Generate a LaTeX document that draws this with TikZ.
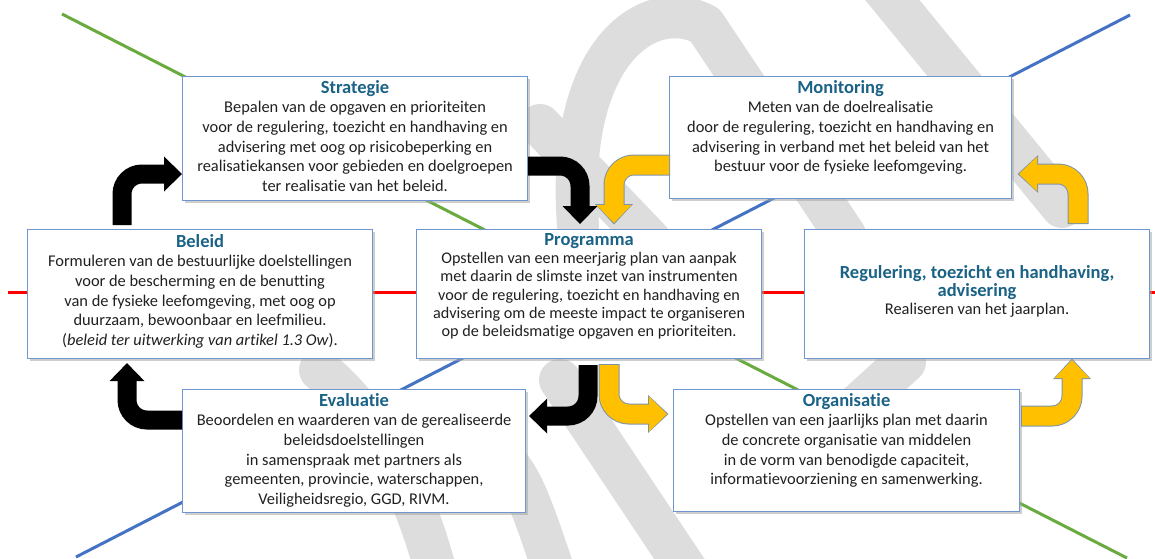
\documentclass[tikz,border=0pt]{standalone}
\usepackage{fontspec}
\setmainfont[Ligatures=NoCommon]{Carlito}
\usetikzlibrary{arrows.meta,shadows,calc}
\definecolor{boxline}{HTML}{7096D0}
\definecolor{titleblue}{HTML}{1A6286}
\definecolor{bodytext}{HTML}{202020}
\definecolor{arryellow}{HTML}{FFC000}
\definecolor{arrline}{HTML}{7F93A8}
\definecolor{wmgrey}{HTML}{DDDDDD}
\definecolor{lgreen}{HTML}{6AAB3F}
\definecolor{lblue}{HTML}{4472C4}
\definecolor{lred}{HTML}{FF0000}
\newcommand\boxttl[1]{{\fontsize{18.5}{19.7}\selectfont\bfseries\color{titleblue}#1}}
\newcommand\yarrow[5]{%
  \draw[yout, shorten <={#4pt-1pt}, shorten >={#5pt-1.5pt}] #1 #2 #3;
  \draw[yin, shorten <={#4pt}, shorten >={#5pt}] #1 #2 #3;}
\begin{document}
\begin{tikzpicture}[x=1pt,y=-1pt,
  box/.style={draw=boxline, line width=1.1pt, fill=white, rectangle, inner sep=0pt, anchor=north west,
    drop shadow={shadow xshift=2.5pt, shadow yshift=-2.5pt, fill=black!35, opacity=0.55}},
  txt/.style={anchor=north, align=center, inner sep=0pt, text=bodytext, font=\fontsize{16.4}{19.7}\selectfont},
  wm/.style={draw=wmgrey, line width=42pt, line cap=round, line join=round},
  bline/.style={line width=3pt},
  blackarrow/.style={draw=black, line width=19pt, rounded corners=20pt, -{Triangle[length=18pt, width=35pt, line width=0pt]}},
  yout/.style={draw=arrline, line width=21pt, rounded corners=20pt, -{Triangle[length=20.5pt, width=38pt, line width=0pt]}},
  yin/.style={draw=arryellow, line width=19pt, rounded corners=20pt, -{Triangle[length=18pt, width=35pt, line width=0pt]}}
]
\useasboundingbox (0,0) rectangle (1155,558);
\fill[white] (0,0) rectangle (1155,558);

% watermark
\draw[wm] (578,225) .. controls (565,50) and (650,-5) .. (705,25) -- (845,235);
\draw[wm] (880,-15) -- (1062,207);
\draw[wm] (540,125) -- (650,240);
\draw[wm] (320,370) .. controls (380,420) and (420,500) .. (440,590);
\draw[wm] (470,430) .. controls (520,470) .. (560,590);
\draw[wm] (560,380) -- (700,590);
\draw[wm] (905,362) -- (830,430);

% background lines
\draw[bline, lred] (8,292) -- (1155,292);
\draw[bline, lgreen] (62,14) -- (1127,558);
\draw[bline, lblue] (1130,15) -- (76,557);

% boxes
\node[box, minimum width=345pt, minimum height=124pt] (strategie) at (182,76) {};
\node[box, minimum width=342pt, minimum height=122pt] (monitoring) at (669,76) {};
\node[box, minimum width=345pt, minimum height=129pt] (beleid) at (27,229) {};
\node[box, minimum width=345pt, minimum height=129pt] (programma) at (416,229) {};
\node[box, minimum width=345pt, minimum height=129pt] (regulering) at (804,229) {};
\node[box, minimum width=343pt, minimum height=123pt] (evaluatie) at (182,389) {};
\node[box, minimum width=346pt, minimum height=122pt] (organisatie) at (673,389) {};

% texts
\node[txt] (strategieT) at ($(strategie.north)+(0,4)$) {\boxttl{Strategie}\\
Bepalen van de opgaven en prioriteiten\\
voor de regulering, toezicht en handhaving en\\
advisering met oog op risicobeperking en\\
realisatiekansen voor gebieden en doelgroepen\\
ter realisatie van het beleid.};
\node[txt] (monitoringT) at ($(monitoring.north)+(0,4)$) {\boxttl{Monitoring}\\
Meten van de doelrealisatie\\
door de regulering, toezicht en handhaving en\\
advisering in verband met het beleid van het\\
bestuur voor de fysieke leefomgeving.};
\node[txt] (beleidT) at ($(beleid.north)+(0,5)$) {\boxttl{Beleid}\\
Formuleren van de bestuurlijke doelstellingen\\
voor de bescherming en de benutting\\
van de fysieke leefomgeving, met oog op\\
duurzaam, bewoonbaar en leefmilieu.\\
(\textit{beleid ter uitwerking van artikel 1.3 Ow}).};
\node[txt, font=\fontsize{16.2}{18.3}\selectfont] (programmaT) at ($(programma.north)+(0,4)$) {\boxttl{Programma}\\
Opstellen van een meerjarig plan van aanpak\\
met daarin de slimste inzet van instrumenten\\
voor de regulering, toezicht en handhaving en\\
advisering om de meeste impact te organiseren\\
op de beleidsmatige opgaven en prioriteiten.};
\node[txt, anchor=center, font=\fontsize{16.4}{18}\selectfont] (reguleringT) at ($(regulering.center)+(0,-3)$) {\boxttl{Regulering, toezicht en handhaving,}\\
\boxttl{advisering}\\
Realiseren van het jaarplan.};
\node[txt] (evaluatieT) at ($(evaluatie.north)+(0,4)$) {\boxttl{Evaluatie}\\
Beoordelen en waarderen van de gerealiseerde\\
beleidsdoelstellingen\\
in samenspraak met partners als\\
gemeenten, provincie, waterschappen,\\
Veiligheidsregio, GGD, RIVM.};
\node[txt] (organisatieT) at ($(organisatie.north)+(0,4)$) {\boxttl{Organisatie}\\
Opstellen van een jaarlijks plan met daarin\\
de concrete organisatie van middelen\\
in de vorm van benodigde capaciteit,\\
informatievoorziening en samenwerking.};

% black arrows
\draw[blackarrow, shorten <=4pt] (122,0 |- beleid.north) |- (strategie.west |- 0,174);
\draw[blackarrow, shorten >=5pt] (strategie.east |- 0,166) -| (580,0 |- programma.north);
\draw[blackarrow, shorten <=6pt, shorten >=3pt] (588,0 |- programma.south) |- (evaluatie.east |- 0,416);
\draw[blackarrow, shorten >=4pt] (evaluatie.west |- 0,420) -| (127,0 |- beleid.south);

% yellow arrows
\yarrow{(monitoring.west |- 0,165)}{-|}{(614,0 |- programma.north)}{0}{6}
\yarrow{(1078,0 |- regulering.north)}{|-}{(monitoring.east |- 0,174)}{6}{7}
\yarrow{(609,0 |- programma.south)}{|-}{(organisatie.west |- 0,414)}{6}{6}
\yarrow{(organisatie.east |- 0,416)}{-|}{(1072,0 |- regulering.south)}{2}{1}
\end{tikzpicture}
\end{document}
